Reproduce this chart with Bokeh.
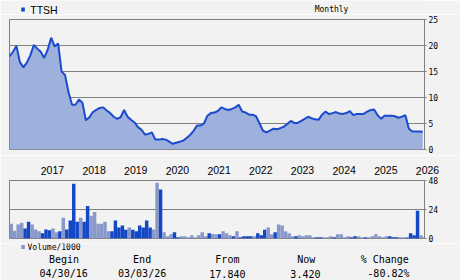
from bokeh.plotting import figure
from bokeh.layouts import column
from bokeh.models import Range1d, FixedTicker, ColumnDataSource, LinearAxis
from bokeh.core.properties import value
from bokeh.embed import file_html
from bokeh.resources import INLINE

# ---------------- data ----------------
symbol = "TTSH"
# monthly closes, Apr 2016 .. Mar 2026 (index 0 = Apr 2016)
price = [17.9, 18.8, 19.9, 16.8, 15.8, 16.7, 18.1, 20.1, 19.4, 18.8, 17.6, 19.2,
         21.5, 19.8, 20.4, 15.0, 14.3, 11.0, 8.6, 8.6, 9.6, 9.0, 5.6, 6.2,
         7.2, 7.6, 8.0, 8.1, 7.5, 7.0, 6.3, 5.9, 6.2, 7.6, 6.3, 5.7,
         5.2, 4.3, 3.8, 2.9, 3.0, 3.3, 1.9, 1.9, 2.0, 1.9, 1.5, 1.1,
         1.3, 1.5, 1.7, 2.2, 2.8, 3.6, 4.6, 4.6, 5.0, 6.5, 7.0, 7.1,
         7.4, 8.1, 7.8, 7.6, 7.8, 8.1, 8.6, 7.3, 7.1, 6.7, 6.7, 6.4,
         5.0, 3.6, 3.3, 3.65, 4.0, 3.9, 4.1, 4.4, 4.9, 5.5, 5.1, 5.1,
         5.5, 5.9, 6.3, 6.0, 5.8, 5.7, 6.7, 7.3, 6.8, 7.0, 7.2, 6.9,
         6.85, 7.0, 7.4, 6.6, 6.85, 6.85, 6.85, 7.3, 7.6, 7.7, 6.6, 5.9,
         6.5, 6.5, 6.5, 6.4, 6.1, 6.3, 6.6, 4.0, 3.45, 3.45, 3.45, 3.42]
# monthly volume / 1000
volume = [12.3, 6.4, 11.5, 13.1, 8.3, 13.9, 11.5, 7.5, 5.9, 4.3, 7.5, 6.9,
          8.3, 5.1, 5.9, 17.2, 7.5, 14.8, 45.4, 13.9, 17.2, 13.9, 26.9, 18.8,
          22.0, 12.3, 12.3, 13.9, 5.9, 5.9, 14.8, 9.1, 10.7, 7.2, 9.1, 7.2,
          5.9, 10.7, 9.1, 14.8, 9.1, 7.5, 46.2, 40.6, 5.1, 1.9, 3.5, 5.1,
          1.1, 1.9, 1.9, 1.1, 2.7, 1.1, 2.7, 5.1, 1.9, 4.3, 3.7, 3.5,
          3.5, 5.9, 4.3, 2.7, 1.9, 5.9, 1.1, 1.9, 1.9, 1.9, 1.9, 4.3,
          2.7, 7.2, 9.1, 3.5, 5.1, 11.5, 10.7, 5.9, 4.3, 1.9, 1.9, 2.7,
          1.9, 2.7, 2.7, 1.1, 1.1, 1.1, 1.1, 1.1, 1.9, 1.1, 3.5, 3.5,
          1.1, 1.9, 1.1, 1.9, 1.9, 1.1, 1.1, 1.1, 1.9, 3.5, 1.9, 1.1,
          1.9, 1.9, 1.1, 1.1, 1.1, 1.1, 0.8, 4.3, 2.7, 23.0, 2.7, 1.1]
# u = up month (dark bar), d = down month (light bar)
vol_dir = list("dddduuddduuudduduuuuduudddddduuuuuduuuuuudduddduuddddddddudduddduduuuuduuudduddddduddddduudddudddduuddudddddduuudduuuudduud")
vol_dir = vol_dir[:len(volume)]
year_starts = [9, 21, 33, 45, 57, 69, 81, 93, 105, 117]
year_labels = ["2017", "2018", "2019", "2020", "2021", "2022", "2023", "2024", "2025", "2026"]
price_ticks = [0, 5, 10, 15, 20, 25]
vol_ticks = [0, 24, 48]
table_heads = ["Begin", "End", "From", "Now", "% Change"]
table_vals = ["04/30/16", "03/03/26", "17.840", "3.420", "-80.82%"]

# ---------------- style ----------------
BG = "#f2f2f2"
GRID = "#808080"
DARK = "#1447c6"
LIGHT = "#8898c8"
FILL = "#9eb0dc"
LINE = "#1a4bcc"
MONO = "DejaVu Sans Mono"
SANS = "Liberation Sans"
W = 460

idx = list(range(len(price)))
xr = Range1d(0, 119.5)


def text_fig(h):
    f = figure(width=W, height=h, x_range=Range1d(0, W), y_range=Range1d(h, 0),
               output_backend="svg", toolbar_location=None, min_border=0,
               x_axis_location=None, y_axis_location=None,
               background_fill_color=BG, border_fill_color=BG, outline_line_color=None)
    f.xgrid.visible = False
    f.ygrid.visible = False
    return f


def style_right(ax, ticks):
    ax.ticker = FixedTicker(ticks=ticks)
    ax.axis_line_color = GRID
    ax.major_tick_line_color = GRID
    ax.major_tick_out = 2
    ax.major_tick_in = 0
    ax.minor_tick_line_color = None
    ax.major_label_standoff = 2
    ax.major_label_text_font = MONO
    ax.major_label_text_font_size = "8px"
    ax.major_label_text_color = "#000000"

# header
p0 = text_fig(14)
p0.quad(left=13, right=17, top=7, bottom=11, fill_color=DARK, line_color=None)
p0.text(x=[23], y=[9], text=[symbol], text_font=value(SANS), text_font_size="10.5px",
        text_baseline="middle", text_color="#000000")
p0.text(x=[357], y=[9], text=["Monthly"], text_font=value(MONO), text_font_size="8px",
        text_baseline="middle", text_align="center", text_color="#000000")

# price panel
p1 = figure(width=W, height=141, x_range=xr, y_range=Range1d(0, 25),
            output_backend="svg", toolbar_location=None,
            min_border_left=9, min_border_right=36, min_border_top=5, min_border_bottom=6,
            x_axis_location=None, y_axis_location="right",
            background_fill_color=BG, border_fill_color=BG, outline_line_color=GRID)
src = ColumnDataSource(dict(x=idx, p=price))
p1.varea(x="x", y1=0, y2="p", source=src, fill_color=FILL)
p1.line(x="x", y="p", source=src, line_color=LINE, line_width=2)
style_right(p1.yaxis[0], price_ticks)
p1.xgrid.visible = False
p1.ygrid.grid_line_color = GRID

# volume panel (year labels sit on its top axis, between the panels)
p2 = figure(width=W, height=88, x_range=xr, y_range=Range1d(0, 48),
            output_backend="svg", toolbar_location=None,
            min_border_left=9, min_border_right=36, min_border_top=25, min_border_bottom=5,
            x_axis_location=None, y_axis_location="right",
            background_fill_color=BG, border_fill_color=BG, outline_line_color=GRID)
vsrc = ColumnDataSource(dict(x=[i + 0.5 for i in idx], v=volume,
                             c=[DARK if d == "u" else LIGHT for d in vol_dir]))
p2.vbar(x="x", top="v", bottom=0, width=1, source=vsrc, fill_color="c", line_color=None)
style_right(p2.yaxis[0], vol_ticks)
xa = LinearAxis(ticker=FixedTicker(ticks=year_starts),
                major_label_overrides={t: l for t, l in zip(year_starts, year_labels)},
                major_label_orientation=0.0001,  # near-horizontal: labels start at the tick
                axis_line_color=None, major_tick_line_color=None, minor_tick_line_color=None,
                major_label_standoff=4, major_label_text_font=SANS,
                major_label_text_font_size="10.5px", major_label_text_color="#000000")
p2.add_layout(xa, "above")
p2.xgrid.visible = False
p2.ygrid.grid_line_color = GRID

# legend + summary table
p3 = text_fig(37)
p3.quad(left=13, right=17, top=1.5, bottom=5.5, fill_color=LIGHT, line_color=None)
p3.text(x=[20], y=[4], text=["Volume/1000"], text_font=value(MONO), text_font_size="8px",
        text_baseline="middle", text_color="#000000")
p3.text(x=[60.5, 147, 241.5, 329, 416], y=[16.3] * 5, text=table_heads, text_font=value(MONO),
        text_font_size="10px", text_baseline="middle", text_align="center", text_color="#000000")
p3.text(x=[60, 147, 241.5, 328, 420], y=[30.3] * 5, text=table_vals, text_font=value(MONO),
        text_font_size="10px", text_baseline="middle", text_align="center", text_color="#000000")

layout = column(p0, p1, p2, p3, spacing=0)
open("out.html", "w").write(file_html(layout, INLINE))
